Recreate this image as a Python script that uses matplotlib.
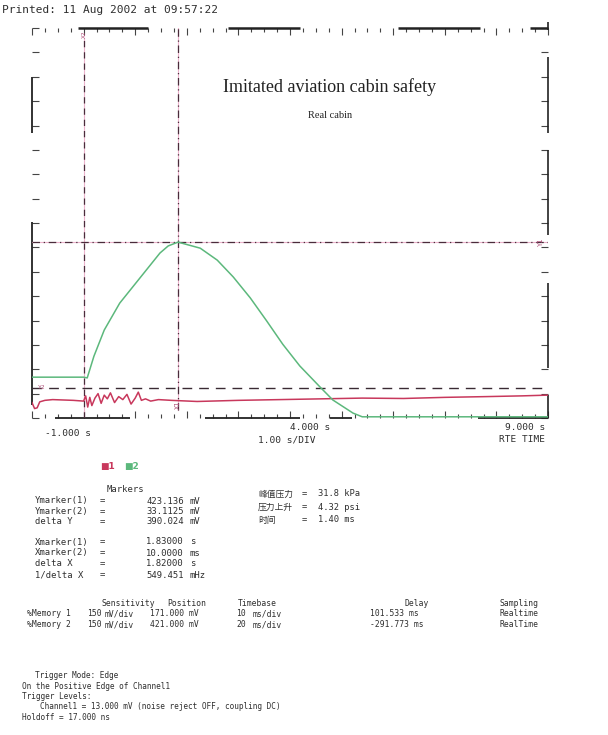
import numpy as np
import matplotlib
matplotlib.use("Agg")
import matplotlib.pyplot as plt
from matplotlib.ticker import MultipleLocator

# ---- recorded traces (time in s, level in mV) ----
green_t = [-1.0, 0.0, 0.07, 0.20, 0.40, 0.70, 1.09, 1.48, 1.64, 1.83, 2.26, 2.59, 2.90,
           3.23, 3.55, 3.86, 4.19, 4.58, 4.83, 5.22, 5.40, 9.0]
green_mv = [62, 62, 60, 118, 188, 260, 327, 394, 413, 423.136, 407, 375, 330,
            274, 212, 150, 92, 36, 1, -34, -44, -44]

red_t = [-1.0, -0.95, -0.9, -0.85, -0.75, -0.6, -0.2, 0.0, 0.04, 0.08, 0.12, 0.16,
         0.22, 0.28, 0.34, 0.40, 0.46, 0.52, 0.60, 0.68, 0.76, 0.84, 0.92, 1.00,
         1.06, 1.12, 1.20, 1.30, 1.45, 1.70, 2.2, 3.0, 3.8, 4.6, 5.4, 6.2, 7.0,
         7.8, 8.5, 9.0]
red_mv = [-6, -22, -20, -4, 0, 2, 0, -2, 12, -18, 8, -14,
          6, 18, -8, 14, 4, 20, -6, 10, 2, 16, -10, 6,
          22, 0, 4, -2, 2, 0, -3, 0, 2, 4, 6, 5, 8,
          10, 12, 14]

# ---- cursor markers ----
x_markers = [1.83, 0.01]          # s
y_markers = [423.136, 33.1125]    # mV

# ---- channel settings table ----
table_cols = ["Sensitivity", "Position", "Timebase", "Delay", "Sampling"]
table_rows = [
    ["%Memory 1", "150", "mV/div", "171.000 mV", "10", "ms/div", "101.533 ms", "Realtime"],
    ["%Memory 2", "150", "mV/div", "421.000 mV", "20", "ms/div", "-291.773 ms", "RealTime"],
]

# ---- measured quantities ----
meas_names = ["峰值压力", "压力上升", "时间"]
meas_values = ["31.8 kPa", "4.32 psi", "1.40 ms"]

trigger_lines = [
    (35, "Trigger Mode: Edge"),
    (22, "On the Positive Edge of Channel1"),
    (22, "Trigger Levels:"),
    (40, "Channel1 = 13.000 mV (noise reject OFF, coupling DC)"),
    (22, "Holdoff = 17.000 ns"),
]

W, H, DPI = 608, 735, 100
MONO = "DejaVu Sans Mono"
INK = "#2e2e2e"
PINK = "#c8385c"
GREEN = "#5cb87c"

fig = plt.figure(figsize=(W / DPI, H / DPI), dpi=DPI, facecolor="white")

# screen area
L, R, T, B = 32, 548, 28, 418
ax = fig.add_axes([L / W, 1 - B / H, (R - L) / W, (B - T) / H])
ax.set_xlim(-1, 9)
ax.set_ylim(-47.2, 995.8)
for s in ax.spines.values():
    s.set_visible(False)
ax.xaxis.set_major_locator(MultipleLocator(1))
ax.xaxis.set_minor_locator(MultipleLocator(0.25))
ax.set_yticks(np.linspace(-47.2, 995.8, 17))
ax.tick_params(which="both", direction="in", top=True, right=True,
               labelbottom=False, labelleft=False, color="#444", width=0.8)
ax.tick_params(which="major", length=5)
ax.tick_params(which="minor", length=3)


def axfx(px):
    return (px - L) / (R - L)


def axfy(py):
    return (B - py) / (B - T)


def seg(x0, y0, x1, y1, lw=1.2, color="#222"):
    ax.plot([axfx(x0), axfx(x1)], [axfy(y0), axfy(y1)], transform=ax.transAxes,
            color=color, lw=lw, clip_on=False, solid_capstyle="butt")


# frame, printed with gaps
for a, b in [(77, 133), (222, 405)]:
    seg(L, a, L, b, lw=1.3)
for a, b in [(78, 148), (228, 300), (398, 480), (530, 548)]:
    seg(a, T, b, T, lw=1.8)
for a, b in [(22, 30), (57, 133), (150, 235), (283, 368), (395, 418)]:
    seg(R, a, R, b, lw=1.2)
for a, b in [(55, 130), (205, 300), (330, 352), (478, 548)]:
    seg(a, B, b, B, lw=1.3)

# cursors
x1, x2 = x_markers
y1, y2 = y_markers
ax.axvline(x2, ymin=0, ymax=axfy(38), color="#ebb3cb", lw=0.8)
ax.axvline(x2, ymin=0, ymax=axfy(38), color="#4a2c3b", lw=0.9, ls=(0, (5, 4)))
ax.axvline(x1, ymin=axfy(410), ymax=1, color="#ebb3cb", lw=0.8)
ax.axvline(x1, ymin=axfy(410), ymax=1, color="#4a2c3b", lw=0.9, ls=(0, (6, 3, 1, 3)))
ax.axhline(y1, color="#ebb3cb", lw=0.8)
ax.axhline(y1, color="#4a2c3b", lw=0.9, ls=(0, (6, 3, 1, 3)))
ax.axhline(y2, color="#3a2a33", lw=1.0, ls=(0, (7, 5)))

# traces
ax.plot(red_t, red_mv, color=PINK, lw=1.1)
ax.plot(green_t, green_mv, color=GREEN, lw=1.1)

# cursor tags
ax.text(x1, axfy(405), "X1", transform=ax.get_xaxis_transform(), rotation=90,
        color="#b0507a", fontsize=5, ha="center", va="center", family=MONO)
ax.text(x2, axfy(34), "X2", transform=ax.get_xaxis_transform(), rotation=90,
        color="#b0507a", fontsize=4.5, ha="center", va="center", family=MONO)
ax.text(axfx(541), y1, "Y1", transform=ax.get_yaxis_transform(), rotation=90,
        color="#b0507a", fontsize=5, ha="center", va="center", family=MONO)
ax.text(axfx(42), y2, "Y2", transform=ax.get_yaxis_transform(),
        color="#b0507a", fontsize=4.5, ha="center", va="center", family=MONO)

# titles on the screen
ax.text(axfx(330), axfy(87), "Imitated aviation cabin safety", transform=ax.transAxes,
        family="Liberation Serif", fontsize=13, color="#222", ha="center", va="center")
ax.text(axfx(330), axfy(115), "Real cabin", transform=ax.transAxes,
        family="Liberation Serif", fontsize=7.5, color="#222", ha="center", va="center")


def put(px, py, s, size=5.5, color=INK, ha="left", family=MONO, **kw):
    fig.text(px / W, 1 - py / H, s, fontsize=size, color=color, ha=ha, va="center",
             family=family, **kw)


put(2, 10, "Printed: 11 Aug 2002 at 09:57:22", size=8)

# x-axis annotations
put(45, 433, "-1.000 s", size=6.8)
put(290, 428, "4.000 s", size=6.8)
put(258, 440, "1.00 s/DIV", size=6.8)
put(545, 428, "9.000 s", size=6.8, ha="right")
put(545, 440, "RTE TIME", size=6.8, ha="right")

# channel keys
put(100, 466, "■1", size=6.5, color=PINK, family="DejaVu Sans", weight="bold")
put(124, 466, "■2", size=6.5, color=GREEN, family="DejaVu Sans", weight="bold")

# marker readouts
dx = x1 - x2
MS = 6.4
put(125, 490, "Markers", size=MS, ha="center")
ymark_lines = [("Ymarker(1)", f"{y1:.3f}", "mV"),
               ("Ymarker(2)", f"{y2:.4f}", "mV"),
               ("delta Y", f"{y1 - y2:.3f}", "mV")]
xmark_lines = [("Xmarker(1)", f"{x1:.5f}", "s"),
               ("Xmarker(2)", f"{x2 * 1000:.4f}", "ms"),
               ("delta X", f"{dx:.5f}", "s"),
               ("1/delta X", f"{1000 / dx:.3f}", "mHz")]
for i, (lab, val, unit) in enumerate(ymark_lines):
    py = 501 + i * 10.5
    put(35, py, lab, size=MS)
    put(100, py, "=", size=MS)
    put(184, py, val, size=MS, ha="right")
    put(190, py, unit, size=MS)
for i, (lab, val, unit) in enumerate(xmark_lines):
    py = 542 + i * 11
    put(35, py, lab, size=MS)
    put(100, py, "=", size=MS)
    put(184, py, val, size=MS, ha="right")
    put(190, py, unit, size=MS)

# measured quantities
for i, (name, val) in enumerate(zip(meas_names, meas_values)):
    py = 494 + i * 13
    put(258, py, name, size=6.3, family=["Noto Sans CJK SC", "DejaVu Sans"])
    put(302, py, "=", size=6.3)
    put(318, py, val, size=6.3)

# settings table
for name, px in zip(table_cols, [101, 167, 238, 405, 500]):
    put(px, 603, name, size=5.8)
col_x = [27, 87, 105, 150, 236, 253, 370, 500]
for r, row in enumerate(table_rows):
    py = 614 + r * 10.5
    for px, cell in zip(col_x, row):
        put(px, py, cell, size=5.8)

# trigger settings
for i, (px, line) in enumerate(trigger_lines):
    put(px, 676 + i * 10.3, line, size=5.6)

fig.savefig("out.png", dpi=DPI, facecolor="white")
